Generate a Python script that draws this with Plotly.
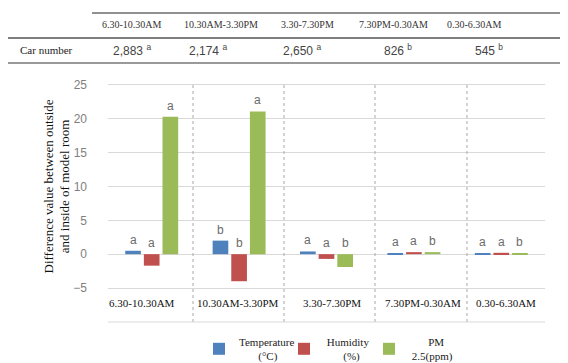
import plotly.graph_objects as go

# ---------------- data ----------------
periods = ["6.30-10.30AM", "10.30AM-3.30PM", "3.30-7.30PM", "7.30PM-0.30AM", "0.30-6.30AM"]
car_number = ["2,883", "2,174", "2,650", "826", "545"]
car_letters = ["a", "a", "a", "b", "b"]

temperature = [0.5, 2.0, 0.4, 0.1, 0.1]
humidity = [-1.7, -4.0, -0.7, 0.3, 0.2]
pm25 = [20.3, 21.1, -1.9, 0.3, 0.1]

temp_letters = ["a", "b", "a", "a", "a"]
hum_letters = ["a", "b", "a", "a", "a"]
pm_letters = ["a", "a", "b", "b", "b"]

series_names = ["Temperature<br>&nbsp;&nbsp;&nbsp;&nbsp;&nbsp;&nbsp;&nbsp;(°C)",
                "&nbsp;Humidity<br>&nbsp;&nbsp;&nbsp;&nbsp;&nbsp;&nbsp;&nbsp;(%)",
                "&nbsp;&nbsp;&nbsp;&nbsp;&nbsp;&nbsp;&nbsp;PM<br>&nbsp;2.5(ppm)"]
colors = ["#4F81BD", "#C0504D", "#9BBB59"]

# ---------------- layout geometry ----------------
# the page body has an 8px margin, so the figure starts at (8, 8) of the window
OFF = 8
W, H = 568 - OFF, 363 - OFF
L, R, T, B = 108 - OFF, 23, 85 - OFF, 75
PW = W - L - R
PH = H - T - B


def px(x):  # window pixel -> paper x
    return (x - OFF - L) / PW


def py(y):  # window pixel -> paper y
    return (H - B - (y - OFF)) / PH


fig = go.Figure()
xs = list(range(len(periods)))
series = [temperature, humidity, pm25]
letters = [temp_letters, hum_letters, pm_letters]
for name, vals, col in zip(series_names, series, colors):
    fig.add_trace(go.Bar(x=xs, y=vals, name=name, marker=dict(color=col, line=dict(width=0))))

bargap, bargroupgap = 0.36, 0.16
slot = (1 - bargap) / 3
annotations = []
for k, (vals, lets) in enumerate(zip(series, letters)):
    off = (k - 1) * slot
    for i, (v, l) in enumerate(zip(vals, lets)):
        annotations.append(dict(
            x=i + off, y=max(0, v), xref="x", yref="y", text=l, showarrow=False,
            yanchor="bottom", yshift=2,
            font=dict(family="Liberation Sans, Arial", size=12, color="#6b6b6b")))

# category labels beneath the plot
label_x = [142, 238, 332, 423, 506]
for lx, p in zip(label_x, periods):
    annotations.append(dict(x=px(lx), y=py(303), xref="paper", yref="paper", text=p,
                            showarrow=False, xanchor="center", yanchor="middle",
                            font=dict(family="Liberation Serif, Times New Roman", size=11, color="#111")))

# y-axis title
annotations.append(dict(x=px(56), y=0.5, xref="paper", yref="paper",
                        text="Difference value between outside<br>and inside of model room",
                        textangle=-90, showarrow=False, xanchor="center", yanchor="middle",
                        font=dict(family="Liberation Serif, Times New Roman", size=13, color="#111")))

# top table
head_x = [132, 221, 307, 393, 474]
val_x = [132, 208, 302, 398, 489]
for hx, p in zip(head_x, periods):
    annotations.append(dict(x=px(hx), y=py(24), xref="paper", yref="paper", text=p,
                            showarrow=False, xanchor="center", yanchor="middle",
                            font=dict(family="Liberation Serif, Times New Roman", size=10, color="#333")))
for vx, v, l in zip(val_x, car_number, car_letters):
    annotations.append(dict(x=px(vx), y=py(50), xref="paper", yref="paper",
                            text=f"{v} <sup>{l}</sup>",
                            showarrow=False, xanchor="center", yanchor="middle",
                            font=dict(family="Liberation Sans, Arial", size=12, color="#444")))
annotations.append(dict(x=px(18), y=py(50), xref="paper", yref="paper", text="Car number",
                        showarrow=False, xanchor="left", yanchor="middle",
                        font=dict(family="Liberation Serif, Times New Roman", size=11, color="#222")))

shapes = []
# table rules
shapes.append(dict(type="line", xref="paper", yref="paper", x0=px(92), x1=px(568), y0=py(13), y1=py(13),
                   line=dict(color="#222", width=1)))
shapes.append(dict(type="line", xref="paper", yref="paper", x0=px(8), x1=px(568), y0=py(38), y1=py(38),
                   line=dict(color="#555", width=1.5)))
shapes.append(dict(type="line", xref="paper", yref="paper", x0=px(8), x1=px(568), y0=py(63), y1=py(63),
                   line=dict(color="#777", width=1.5)))
# dashed vertical dividers
divider_px = [193, 284, 375, 467]
for d in divider_px:
    shapes.append(dict(type="line", xref="paper", yref="paper", x0=px(d), x1=px(d), y0=py(85), y1=py(322),
                       line=dict(color="#a8a8a8", width=1, dash="dot")))
# line under category labels
shapes.append(dict(type="line", xref="paper", yref="paper", x0=0, x1=1, y0=py(322), y1=py(322),
                   line=dict(color="#d9d9d9", width=1)))

fig.update_layout(
    width=W, height=H,
    margin=dict(l=L, r=R, t=T, b=B, pad=0, autoexpand=False),
    paper_bgcolor="white", plot_bgcolor="white",
    barmode="group", bargap=bargap, bargroupgap=bargroupgap,
    annotations=annotations, shapes=shapes,
    showlegend=True,
    legend=dict(orientation="h", x=px(199), y=py(349), xanchor="left", yanchor="middle",
                font=dict(family="Liberation Serif, Times New Roman", size=11, color="#222"),
                valign="middle", itemwidth=30, entrywidth=40, entrywidthmode="pixels",
                tracegroupgap=0, bgcolor="rgba(0,0,0,0)"),
    xaxis=dict(range=[-0.5, 4.5], showticklabels=False, showgrid=False, zeroline=False,
               showline=True, linecolor="#d9d9d9", linewidth=1, mirror=True, ticks=""),
    yaxis=dict(range=[-5, 25], dtick=5, tick0=0, showgrid=True, gridcolor="#d9d9d9", gridwidth=1,
               zeroline=True, zerolinecolor="#d9d9d9", zerolinewidth=1, showline=False,
               ticks="", ticklabelstandoff=20,
               tickfont=dict(family="Liberation Sans, Arial", size=12, color="#808080")),
)

fig.write_html("out.html")
